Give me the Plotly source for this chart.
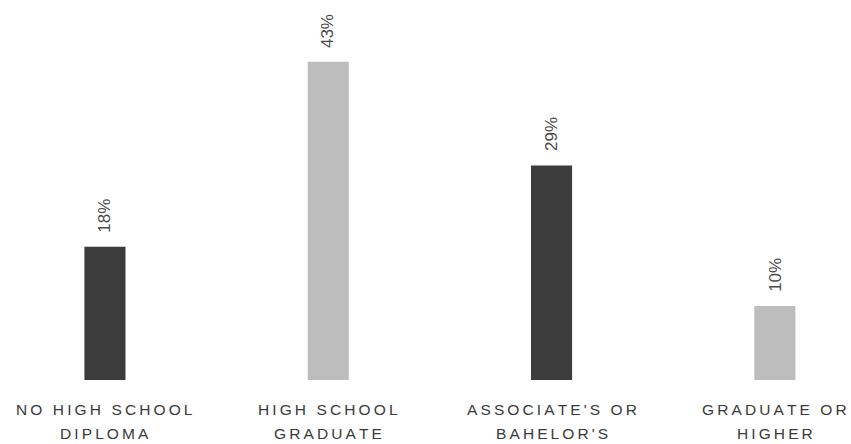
import plotly.graph_objects as go

categories = ["NO HIGH SCHOOL DIPLOMA", "HIGH SCHOOL GRADUATE", "ASSOCIATE'S OR BAHELOR'S", "GRADUATE OR HIGHER"]
line1 = ["NO HIGH SCHOOL", "HIGH SCHOOL", "ASSOCIATE'S OR", "GRADUATE OR"]
line2 = ["DIPLOMA", "GRADUATE", "BAHELOR'S", "HIGHER"]
values = [18, 43, 29, 10]
colors = ["#3c3c3c", "#bdbdbd", "#3c3c3c", "#bdbdbd"]

SP = "\u2009"
def spaced(s):
    return SP.join(list(s))

FONT = "Liberation Sans, Arial"
x = list(range(len(categories)))
fig = go.Figure(go.Bar(x=x, y=values, marker=dict(color=colors, line=dict(width=0)),
                       width=0.184, hoverinfo="skip"))

annotations = []
for i, v in enumerate(values):
    annotations.append(dict(x=i, y=v, xref="x", yref="y", text=f"{v}%", textangle=-90,
                            showarrow=False, xanchor="center", yanchor="bottom", yshift=12,
                            font=dict(family=FONT, size=17, color="#4a4a4a")))
    annotations.append(dict(x=i, y=0, xref="x", yref="y", yshift=-29, text=spaced(line1[i]),
                            showarrow=False, xanchor="center", yanchor="middle",
                            font=dict(family=FONT, size=15.5, color="#3a3a3a")))
    annotations.append(dict(x=i, y=0, xref="x", yref="y", yshift=-53, text=spaced(line2[i]),
                            showarrow=False, xanchor="center", yanchor="middle",
                            font=dict(family=FONT, size=15.5, color="#3a3a3a")))

fig.update_layout(
    width=851, height=444,
    margin=dict(l=0, r=0, t=0, b=64),
    paper_bgcolor="white", plot_bgcolor="white",
    showlegend=False,
    xaxis=dict(range=[-0.470, 3.341], showticklabels=False, showgrid=False, zeroline=False, showline=False, ticks=""),
    yaxis=dict(range=[0, 51.35], visible=False, showgrid=False, zeroline=False),
    annotations=annotations,
)
fig.write_html("out.html")
